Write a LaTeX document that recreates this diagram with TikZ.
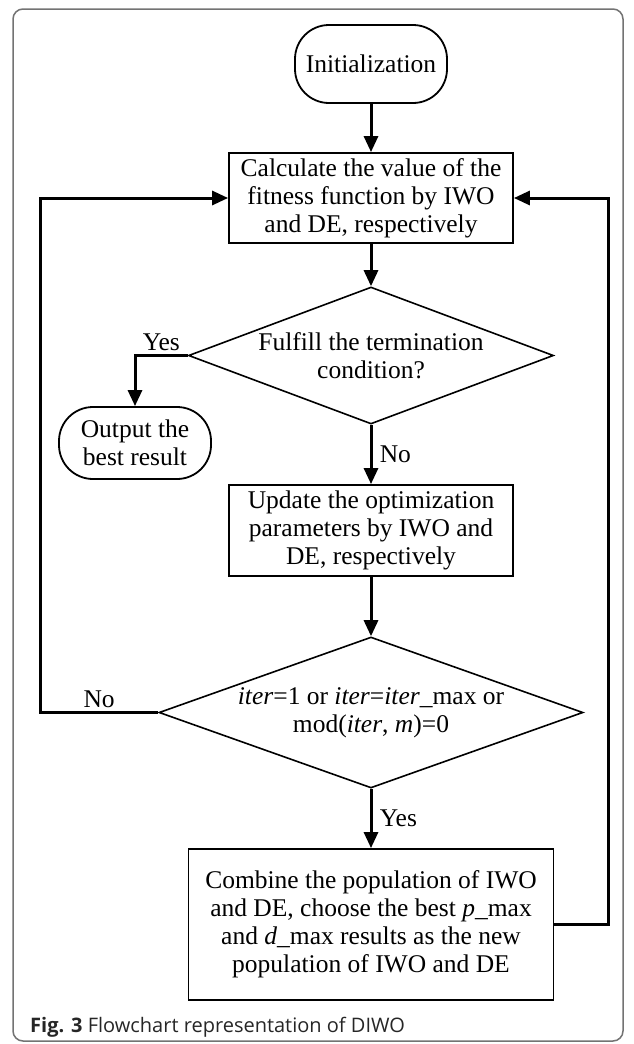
\documentclass[tikz,border=0pt]{standalone}
\usepackage{fontspec}
\setmainfont{Liberation Serif}
\newfontfamily\capfont{Open Sans}
\usetikzlibrary{shapes.geometric, arrows.meta}
\tikzset{startstop/.style={rectangle, rounded corners=34pt, draw=black, line width=1.8pt, align=center, inner sep=0pt}}
\tikzset{process/.style={rectangle, draw=black, line width=1.8pt, align=center, inner sep=0pt}}
\tikzset{decision/.style={diamond, draw=black, line width=1.6pt, align=center, inner sep=0pt}}
\tikzset{arrow/.style={line width=3pt, -{Triangle[length=16pt,width=14pt]}}}

\begin{document}
\begin{tikzpicture}[x=1pt, y=-1pt, font=\fontsize{25.5}{28}\selectfont]
\useasboundingbox (0,0) rectangle (634,1044);
% frame
\draw[black!55, line width=1.5pt, rounded corners=10pt] (13,9) rectangle (623,1041);

% nodes
\node[startstop, minimum width=152pt, minimum height=78pt] (init) at (371,64) {Initialization};
\node[process, minimum width=284pt, minimum height=90pt] (calc) at (371,198) {Calculate the value of the\\fitness function by IWO\\and DE, respectively};
\node[decision, aspect=2.66, minimum width=365pt, minimum height=137pt] (term) at (371,355.5) {Fulfill the termination\\condition?};
\node[startstop, minimum width=152pt, minimum height=72pt] (best) at (135,443) {Output the\\best result};
\node[process, minimum width=284pt, minimum height=91pt] (update) at (371,530.5) {Update the optimization\\parameters by IWO and\\DE, respectively};
\node[decision, aspect=2.8, minimum width=424pt, minimum height=151pt] (check) at (371,712.5) {\textit{iter}=1 or \textit{iter}=\textit{iter}\_max or\\mod(\textit{iter}, \textit{m})=0};
\node[process, minimum width=365pt, minimum height=151pt] (combine) at (371,924.5) {Combine the population of IWO\\and DE, choose the best \textit{p}\_max\\and \textit{d}\_max results as the new\\population of IWO and DE};
\coordinate (lbend) at (40,712.5);
\coordinate (rbend) at (608,924.5);

% connectors
\draw[arrow] (init) -- (calc);
\draw[arrow] (calc) -- (term);
\draw[arrow] (term.west) -| (best.north) node[pos=0.25, above] {Yes};
\draw[arrow] (term.south) -- (update.north) node[midway, right=4pt] {No};
\draw[arrow] (update) -- (check);
\draw[arrow] (check.west) -- (lbend) node[midway, above] {No} |- (calc.west);
\draw[arrow] (check.south) -- (combine.north) node[midway, right=4pt] {Yes};
\draw[arrow] (combine.east) -- (rbend) |- (calc.east);

% caption
\node[anchor=west, inner sep=0pt, font=\capfont\fontsize{20}{24}\selectfont, text=black!85] (caption) at (30,1027) {\textbf{Fig. 3} Flowchart representation of DIWO};
\end{tikzpicture}
\end{document}
